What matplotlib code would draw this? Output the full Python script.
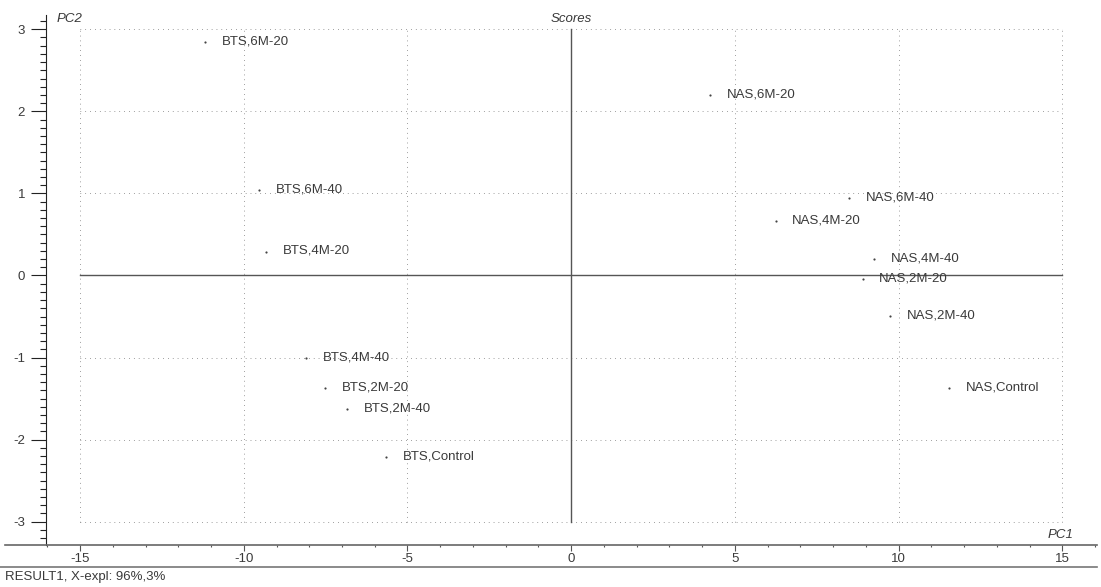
import matplotlib
matplotlib.use("Agg")
import matplotlib.pyplot as plt
from matplotlib.lines import Line2D
import numpy as np

plt.rcParams['font.family'] = ['Liberation Sans', 'DejaVu Sans']
plt.rcParams['axes.unicode_minus'] = False

labels = ["BTS,6M-20", "BTS,6M-40", "BTS,4M-20", "BTS,4M-40", "BTS,2M-20",
          "BTS,2M-40", "BTS,Control",
          "NAS,6M-20", "NAS,6M-40", "NAS,4M-20", "NAS,4M-40", "NAS,2M-20",
          "NAS,2M-40", "NAS,Control"]
pc1 = [-11.18, -9.54, -9.33, -8.10, -7.52, -6.84, -5.66,
       4.25, 8.48, 6.24, 9.24, 8.90, 9.74, 11.55]
pc2 = [2.84, 1.04, 0.29, -1.01, -1.37, -1.63, -2.21,
       2.20, 0.94, 0.66, 0.20, -0.04, -0.49, -1.37]

x_grid = [-15, -10, -5, 5, 10, 15]
y_grid = [-3, -2, -1, 1, 2, 3]

txt = '#3a3a3a'
fs = 9.5
W, H = 1101, 587
fig = plt.figure(figsize=(W / 100, H / 100), dpi=100)
ax = fig.add_axes([46 / W, (H - 544.5) / H, (W - 46) / W, 529.5 / H])
ax.set_xlim(-16.04, 16.18)
ax.set_ylim(-3.278, 3.174)

dot = (0, (0.7, 4.3))
for gx in x_grid:
    ax.plot([gx, gx], [-3, 3], color='#777777', lw=0.7, ls=dot)
for gy in y_grid:
    ax.plot([-15, 15], [gy, gy], color='#777777', lw=0.7, ls=dot)
ax.plot([0, 0], [-3, 3], color='#555555', lw=1.0)
ax.plot([-15, 15], [0, 0], color='#555555', lw=1.0)

ax.scatter(pc1, pc2, s=2.5, color='#444444', linewidths=0, zorder=3)
for x, y, lab in zip(pc1, pc2, labels):
    ax.annotate(lab, (x, y), xytext=(12, 0.5), textcoords='offset points',
                va='center', ha='left', fontsize=fs, color=txt)

ax.spines['top'].set_visible(False)
ax.spines['right'].set_visible(False)
ax.spines['bottom'].set_visible(False)
ax.spines['left'].set_color('#222222')

ax.set_xticks([-15, -10, -5, 0, 5, 10, 15])
ax.set_xticks(np.arange(-16, 17, 1), minor=True)
ax.set_yticks([-3, -2, -1, 0, 1, 2, 3])
ax.set_yticks(np.arange(-3.2, 3.15, 0.1), minor=True)
ax.tick_params(axis='x', which='major', direction='out', length=4.5, width=0.8,
               pad=1.5, labelsize=fs, colors='#555555', labelcolor=txt)
ax.tick_params(axis='x', which='minor', direction='out', length=1.5, width=0.8,
               colors='#555555')
ax.tick_params(axis='y', which='major', direction='out', length=10.5, width=0.8,
               pad=4.5, labelsize=fs, colors='#222222', labelcolor=txt)
ax.tick_params(axis='y', which='minor', direction='out', length=4, width=0.8,
               colors='#222222')

# baseline of x axis and separator line under tick labels
fig.add_artist(Line2D([5 / W, 1097 / W], [(H - 544.5) / H] * 2,
                      color='#666666', lw=1.2))
fig.add_artist(Line2D([0 / W, 1097 / W], [(H - 567) / H] * 2,
                      color='#777777', lw=1.2))

fig.text(70 / W, (H - 19) / H, "PC2", fontsize=fs, style='italic',
         color=txt, ha='center', va='center')
fig.text(571 / W, (H - 19) / H, "Scores", fontsize=fs, style='italic',
         color=txt, ha='center', va='center')
fig.text(1073 / W, (H - 535) / H, "PC1", fontsize=fs, style='italic',
         color=txt, ha='right', va='center')
fig.text(5 / W, (H - 577) / H, "RESULT1, X-expl: 96%,3%", fontsize=fs,
         color=txt, ha='left', va='center')

fig.savefig("out.png", dpi=100)
